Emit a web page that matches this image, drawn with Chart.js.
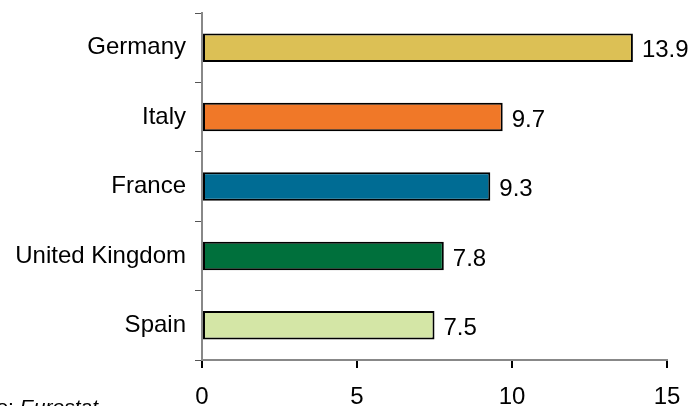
<!DOCTYPE html>
<html>
<head>
<meta charset="utf-8">
<script src="https://cdn.jsdelivr.net/npm/chart.js@4/dist/chart.umd.min.js"></script>
<style>
html,body{margin:0;padding:0;background:#fff;}
#wrap{width:691px;height:406px;position:relative;}
</style>
</head>
<body>
<div id="wrap"><canvas id="c" width="691" height="406"></canvas></div>
<script>
const categories = ["Germany", "Italy", "France", "United Kingdom", "Spain"];
const values = [13.9, 9.7, 9.3, 7.8, 7.5];
const barColors = ["#DCC055", "#F07828", "#006C94", "#00703C", "#D4E6A6"];
const xTicks = [0, 5, 10, 15];
const sourcePrefix = "Source: ";
const sourceName = "Eurostat";

const FONT = "'Liberation Sans', Arial, sans-serif";

const valueLabels = {
  id: 'valueLabels',
  afterDatasetsDraw(chart) {
    const ctx = chart.ctx;
    const meta = chart.getDatasetMeta(0);
    ctx.save();
    ctx.font = "24px " + FONT;
    ctx.fillStyle = "#000";
    ctx.textAlign = "left";
    ctx.textBaseline = "middle";
    meta.data.forEach((bar, i) => {
      ctx.fillText(values[i].toFixed(1), bar.x + 9, bar.y + 3);
    });
    ctx.restore();
  }
};

const sourceNote = {
  id: 'sourceNote',
  afterDraw(chart) {
    const ctx = chart.ctx;
    ctx.save();
    ctx.fillStyle = "#000";
    ctx.textBaseline = "alphabetic";
    ctx.font = "italic 21px " + FONT;
    const wName = ctx.measureText(sourceName).width;
    const xName = 98 - wName;
    ctx.textAlign = "left";
    ctx.fillText(sourceName, xName, 414);
    ctx.font = "21px " + FONT;
    ctx.textAlign = "right";
    ctx.fillText(sourcePrefix, xName, 414);
    ctx.restore();
  }
};

new Chart(document.getElementById('c'), {
  type: 'bar',
  data: {
    labels: categories,
    datasets: [{
      data: values,
      backgroundColor: barColors,
      borderColor: "#000",
      borderWidth: 2,
      borderSkipped: false,
      barPercentage: 0.41,
      categoryPercentage: 1.0
    }]
  },
  options: {
    indexAxis: 'y',
    responsive: false,
    animation: false,
    devicePixelRatio: 1,
    layout: { padding: { top: 0, right: 24, left: 0, bottom: 0 } },
    plugins: { legend: { display: false }, tooltip: { enabled: false } },
    scales: {
      x: {
        min: 0, max: 15,
        afterBuildTicks(scale) { scale.ticks = xTicks.map(v => ({ value: v })); },
        afterFit(scale) { scale.height = 46; scale.paddingLeft = 0; scale.paddingRight = 0; },
        border: { display: true, color: "#888", width: 2 },
        grid: { display: true, drawOnChartArea: false, drawTicks: true, tickLength: 8, color: "#000", lineWidth: 2 },
        ticks: { color: "#000", font: { family: FONT, size: 24 }, padding: 15, maxRotation: 0 }
      },
      y: {
        afterFit(scale) { scale.width = 202; scale.paddingTop = 13; scale.paddingBottom = 0; },
        border: { display: true, color: "#888", width: 2 },
        grid: { display: true, offset: true, drawOnChartArea: false, drawTicks: true, tickLength: 7, color: "#555", lineWidth: 1 },
        ticks: { color: "#000", font: { family: FONT, size: 24 }, padding: 9 }
      }
    }
  },
  plugins: [valueLabels, sourceNote]
});
</script>
</body>
</html>
